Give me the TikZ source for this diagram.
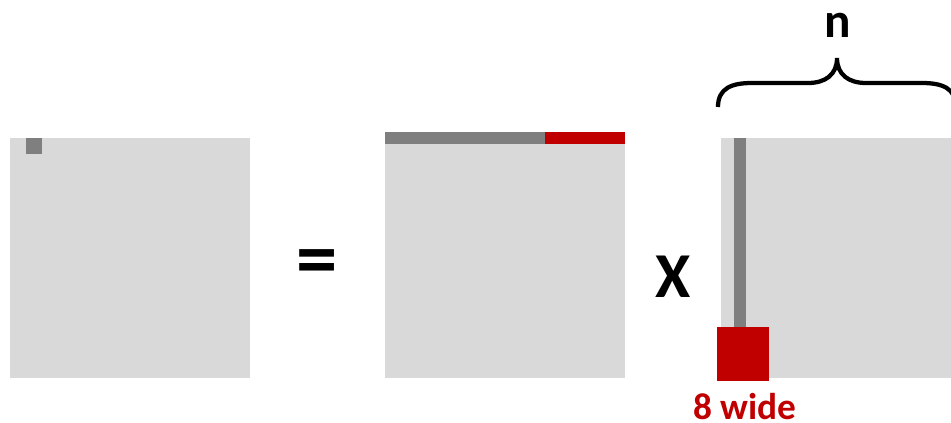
\documentclass[tikz,border=0pt]{standalone}
\usepackage{fontspec}
\setmainfont{Carlito}
\definecolor{matgray}{HTML}{D9D9D9}
\definecolor{matdark}{HTML}{7F7F7F}
\definecolor{matred}{HTML}{C00000}

\begin{document}
\begin{tikzpicture}[x=0.75pt, y=-0.75pt]
\useasboundingbox (0,0) rectangle (951,423);
\clip (0,0) rectangle (951,423);

% Result matrix
\fill[matgray] (10,138) rectangle (250,378);
\fill[matdark] (26,138) rectangle (42,154);

% Equals sign
\node[font=\fontsize{62}{62}\selectfont\bfseries, inner sep=0pt] (eq) at (317,268) {=};

% Left matrix with row
\fill[matgray] (385,138) rectangle (625,378);
\fill[matdark] (385,132) rectangle (545,144);
\fill[matred] (545,132) rectangle (625,144);

% Times sign
\node[font=\fontsize{48}{48}\selectfont\bfseries, inner sep=0pt] (times) at (673,277) {X};

% Right matrix with column
\fill[matgray] (721,138) rectangle (961,378);
\fill[matdark] (734,138) rectangle (746,330);
\fill[matred] (717,327) rectangle (769,381);
\node[font=\fontsize{28}{30}\selectfont\bfseries, text=matred, inner sep=0pt] (wide) at (745,407) {8 wide};

% Brace over n columns
\draw[line width=3.2pt, miter limit=20]
  (718,107) .. controls (718,88) and (732,83) .. (752,83) -- (808,83)
  .. controls (825,83) and (837,75) .. (837,58)
  .. controls (837,75) and (849,83) .. (866,83) -- (922,83)
  .. controls (942,83) and (956,88) .. (956,107);
\node[font=\fontsize{37}{37}\selectfont\bfseries, inner sep=0pt] (n) at (838,25) {n};

\end{tikzpicture}
\end{document}
